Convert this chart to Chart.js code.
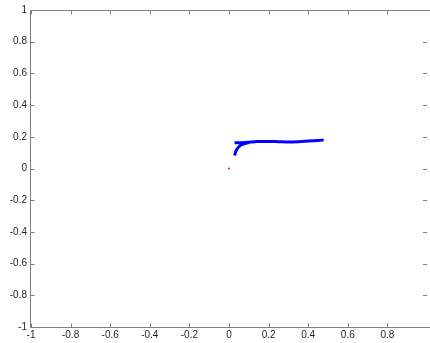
<!DOCTYPE html>
<html>
<head>
<meta charset="utf-8">
<script src="https://cdn.jsdelivr.net/npm/chart.js@4/dist/chart.umd.min.js"></script>
<style>
html,body{margin:0;padding:0;background:#fff;overflow:hidden;}
#wrap{position:absolute;left:0;top:0;width:430px;height:343px;}
</style>
</head>
<body>
<div id="wrap"><canvas id="c" width="430" height="343"></canvas></div>
<script>
// Tick labels
const xTicks = [-1, -0.8, -0.6, -0.4, -0.2, 0, 0.2, 0.4, 0.6, 0.8];
const yTicks = [-1, -0.8, -0.6, -0.4, -0.2, 0, 0.2, 0.4, 0.6, 0.8, 1];
// Main (nearly flat) blue trace
const lineX = [0.028, 0.06, 0.095, 0.14, 0.2, 0.25, 0.3, 0.35, 0.4, 0.45, 0.478];
const lineY = [0.162, 0.163, 0.165, 0.170, 0.171, 0.169, 0.167, 0.169, 0.173, 0.177, 0.180];
// Short hook at the start
const hookX = [0.028, 0.035, 0.045, 0.06, 0.08, 0.10];
const hookY = [0.082, 0.110, 0.130, 0.148, 0.158, 0.163];
// Single red point at the origin
const dotX = [0];
const dotY = [0];

const toPts = (xs, ys) => xs.map((x, i) => ({x: x, y: ys[i]}));

const axisPlugin = {
  id: 'matlabAxes',
  afterDatasetsDraw(chart) {
    const {ctx, chartArea: a, scales: {x, y}} = chart;
    ctx.save();
    ctx.strokeStyle = '#808080';
    ctx.lineWidth = 1;
    const L = Math.round(a.left) - 0.5, T = Math.round(a.top) + 0.5, B = Math.round(a.bottom) + 0.5;
    ctx.beginPath();
    ctx.moveTo(L, T); ctx.lineTo(chart.width, T);
    ctx.moveTo(L, T); ctx.lineTo(L, B);
    ctx.moveTo(L, B); ctx.lineTo(chart.width, B);
    const tl = 4;
    xTicks.forEach(v => {
      const px = Math.round(x.getPixelForValue(v)) + 0.5;
      ctx.moveTo(px, B); ctx.lineTo(px, B - tl);
      ctx.moveTo(px, T); ctx.lineTo(px, T + tl);
    });
    yTicks.forEach(v => {
      const py = Math.round(y.getPixelForValue(v)) + 0.5;
      ctx.moveTo(L, py); ctx.lineTo(L + tl, py);
      ctx.moveTo(a.right + 1, py); ctx.lineTo(a.right + 1 - tl, py);
    });
    ctx.stroke();
    ctx.restore();
  }
};

new Chart(document.getElementById('c'), {
  type: 'scatter',
  data: {
    datasets: [
      {data: toPts(lineX, lineY), showLine: true, borderColor: '#0000ff', borderWidth: 3, pointRadius: 0, tension: 0.3},
      {data: toPts(hookX, hookY), showLine: true, borderColor: '#0000ff', borderWidth: 3, pointRadius: 0, tension: 0.15},
      {data: toPts(dotX, dotY), showLine: false, pointRadius: 1, pointBackgroundColor: '#ff0000', pointBorderWidth: 0}
    ]
  },
  options: {
    responsive: false,
    animation: false,
    devicePixelRatio: 1,
    layout: {padding: {top: 10, right: 0, left: 0, bottom: 0}},
    plugins: {legend: {display: false}, tooltip: {enabled: false}},
    scales: {
      x: {
        type: 'linear', min: -1, max: 0.995,
        afterBuildTicks: s => { s.ticks = xTicks.map(v => ({value: v})); },
        afterFit: s => { s.height = 16; s.paddingLeft = 0; s.paddingRight = 0; },
        grid: {display: false, drawTicks: false},
        border: {display: false},
        ticks: {padding: 2, color: '#262626', font: {family: 'Liberation Sans', size: 10}, maxRotation: 0, autoSkip: false, callback: v => String(v)}
      },
      y: {
        type: 'linear', min: -1, max: 1,
        afterBuildTicks: s => { s.ticks = yTicks.map(v => ({value: v})); },
        afterFit: s => { s.width = 31; },
        grid: {display: false, drawTicks: false},
        border: {display: false},
        ticks: {padding: 4, color: '#262626', font: {family: 'Liberation Sans', size: 10}, autoSkip: false, callback: v => String(v)}
      }
    }
  },
  plugins: [axisPlugin]
});
</script>
</body>
</html>
